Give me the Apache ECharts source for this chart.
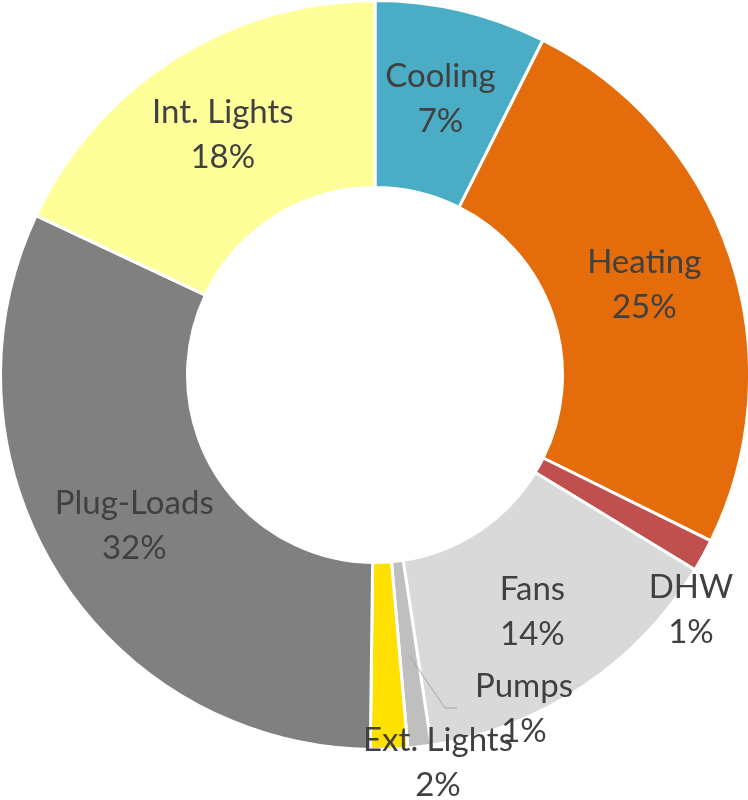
<!DOCTYPE html>
<html>
<head>
<meta charset="utf-8">
<script src="https://cdn.jsdelivr.net/npm/echarts@6/dist/echarts.min.js"></script>
<style>
    html, body { margin: 0; padding: 0; background: #fff; }
    #main { width: 748px; height: 800px; }
</style>
</head>
<body>
<div id="main"></div>
<script>
// end uses, share of total (%)
var categories = ['Cooling', 'Heating', 'DHW', 'Fans', 'Pumps', 'Ext. Lights', 'Plug-Loads', 'Int. Lights'];
var values = [7.4, 24.9, 1.4, 13.9, 1.0, 1.6, 31.8, 18.0];

var colors = ['#4bacc6', '#e46c0a', '#c0504d', '#d9d9d9', '#bfbfbf', '#ffe000', '#808080', '#ffff99'];

// small slices get their label moved outside the ring
var outsideLabels = {
    'DHW': { x: 691, y: 610 },
    'Pumps': { x: 524, y: 709, line: [[409, 655], [445, 708], [457, 708]] },
    'Ext. Lights': { x: 438, y: 763 }
};

var myChart = echarts.init(document.getElementById('main'));

var sliceData = categories.map(function (name, i) {
    return { name: name, value: values[i], itemStyle: { color: colors[i] } };
});

// same slices again, invisible, only to carry the labels above the ring
var labelData = categories.map(function (name, i) {
    var item = { name: name, value: values[i] };
    if (outsideLabels[name]) {
        item.label = { position: 'outside' };
        item.labelLine = { show: !!outsideLabels[name].line };
    }
    return item;
});

var common = {
    type: 'pie',
    center: [375, 375],
    radius: [187.5, 374.5],
    startAngle: 90,
    clockwise: true,
    avoidLabelOverlap: false,
    silent: true
};

myChart.setOption({
    animation: false,
    series: [
        Object.assign({}, common, {
            z: 2,
            itemStyle: {
                borderColor: '#fff',
                borderWidth: 3
            },
            label: { show: false },
            labelLine: { show: false },
            data: sliceData
        }),
        Object.assign({}, common, {
            z: 3,
            itemStyle: {
                color: 'transparent',
                borderWidth: 0
            },
            label: {
                show: true,
                position: 'inside',
                color: '#404040',
                fontFamily: 'Lato',
                fontSize: 33,
                lineHeight: 45,
                align: 'center',
                formatter: function (p) {
                    return p.name + '\n' + Math.round(p.percent) + '%';
                }
            },
            labelLine: {
                show: true,
                lineStyle: { color: '#a6a6a6', width: 1 }
            },
            labelLayout: function (params) {
                var o = outsideLabels[categories[params.dataIndex]];
                if (!o) return {};
                var res = { x: o.x, y: o.y, align: 'center', verticalAlign: 'middle' };
                if (o.line) res.labelLinePoints = o.line;
                return res;
            },
            data: labelData
        })
    ]
});
</script>
</body>
</html>
